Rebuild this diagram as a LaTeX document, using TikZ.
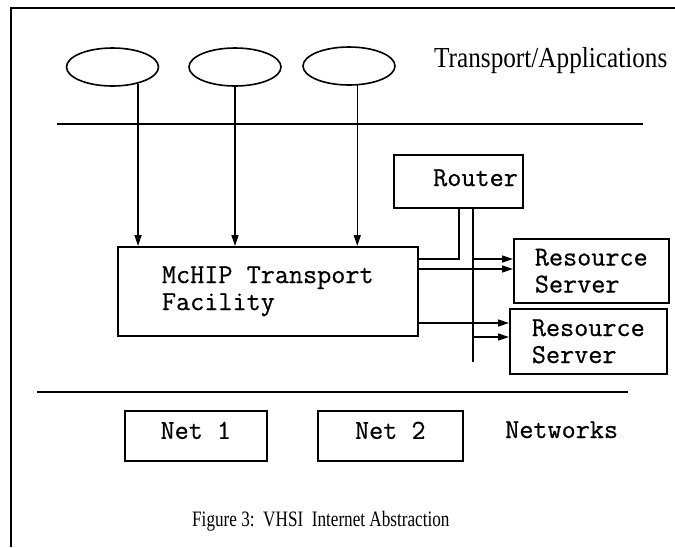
\documentclass[tikz,border=0pt]{standalone}
\usepackage{fontspec}
\setmainfont{Liberation Serif}
\newfontfamily\courfont[FakeBold=0.6]{Latin Modern Mono}
\usetikzlibrary{arrows.meta,shapes.geometric}
\tikzset{
  box/.style={draw, line width=1.6pt, inner sep=0pt},
  mono/.style={font=\courfont\fontsize{27.4}{27}\selectfont},
  oval/.style={draw, ellipse, line width=1.6pt, minimum width=92pt, minimum height=38pt, inner sep=0pt},
  sep/.style={line width=2.4pt},
  link/.style={line width=1.6pt},
  arr/.style={line width=1.6pt, -{Triangle[length=11pt,width=7pt]}},
  darr/.style={line width=1.5pt, -{Triangle[length=11pt,width=7pt]}},
}
\begin{document}
\begin{tikzpicture}[x=1pt,y=-1pt]
\useasboundingbox (0,0) rectangle (675,547);
% frame
\draw[line width=1.6pt] (11,547) -- (11,8) -- (675,8);
% applications
\node[oval] (e1) at (112.5,67) {};
\node[oval] (e2) at (235,67) {};
\node[oval] (e3) at (349,66) {};
\node[anchor=base west, inner sep=0pt, font=\fontsize{29}{30}\selectfont] (tlabel) at (434,67) {\scalebox{0.87}[1]{Transport/Applications}};
\draw[sep] (57,124) -- (643,124);
% transport facility
\node[box, mono, anchor=north west, minimum width=300pt, minimum height=89pt, align=left] (mchip) at (117,246) {McHIP Transport\\Facility};
\draw[darr] (e1.-33) -- (e1.-33 |- mchip.north);
\draw[darr] (e2.south) -- (e2.south |- mchip.north);
\draw[darr] (e3.-67) -- (e3.-67 |- mchip.north);
% router
\node[box, anchor=north west, minimum width=129pt, minimum height=53pt] (router) at (393,154) {};
\node[mono, anchor=base west, inner sep=0pt] (routertext) at (433,186) {Router};
% resource servers
\node[box, mono, anchor=north west, minimum width=155pt, minimum height=64pt, align=left] (rs1) at (513,238) {Resource\\Server};
\node[box, mono, anchor=north west, minimum width=157pt, minimum height=65pt, align=left] (rs2) at (509,308) {Resource\\Server};
% bus and router link
\coordinate (busb) at (473,362);
\coordinate (rj) at (459,259);
\draw[link] (router.south -| busb) -- (busb);
\draw[link] (router.south -| rj) -- (rj) -- (rj -| mchip.east);
\draw[arr] (rj -| busb) -- (rj -| rs1.west);
\draw[arr] (mchip.east |- 0,269) -- (rs1.west |- 0,269);
\draw[arr] (mchip.east |- 0,323) -- (rs2.west |- 0,323);
\draw[arr] (busb |- 0,337) -- (rs2.west |- 0,337);
% networks
\draw[sep] (37,392) -- (628,392);
\node[box, mono, anchor=north west, minimum width=142pt, minimum height=50pt, text depth=11pt] (net1) at (124,410) {Net 1};
\node[box, mono, anchor=north west, minimum width=145pt, minimum height=50pt, text depth=11pt] (net2) at (317,410) {Net 2};
\node[mono, anchor=base west, inner sep=0pt] (nlabel) at (505,438) {Networks};
% caption
\node[anchor=base west, inner sep=0pt, font=\fontsize{22}{24}\selectfont] (caption) at (192,526) {\scalebox{0.78}[1]{Figure 3:\ \ VHSI\ \ Internet Abstraction}};
\end{tikzpicture}
\end{document}
